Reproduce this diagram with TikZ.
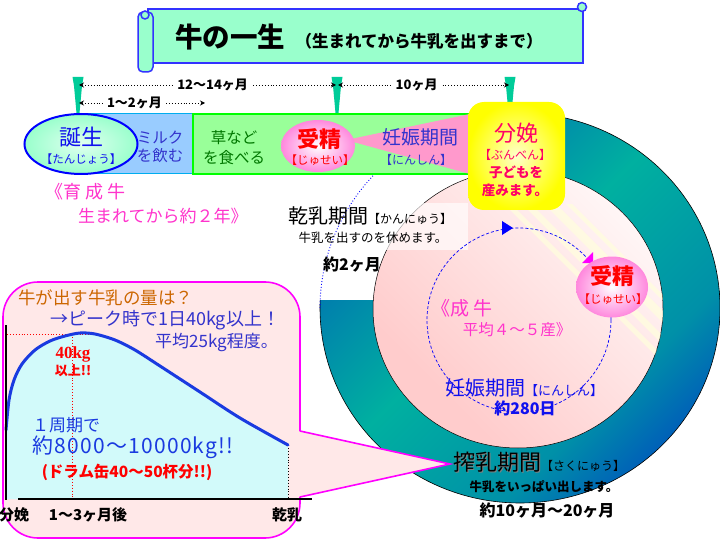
\documentclass[tikz,border=0pt]{standalone}
\usepackage{fontspec}
\setmainfont{Noto Sans CJK JP}
\newfontfamily\lserif{Liberation Serif}
\usetikzlibrary{arrows.meta,shapes.geometric}
\definecolor{mint}{HTML}{99FFCC}
\definecolor{bannerblue}{HTML}{3333FF}
\definecolor{pin}{HTML}{00CC99}
\definecolor{milkblue}{HTML}{99CCFF}
\definecolor{grass}{HTML}{99FF99}
\definecolor{grassline}{HTML}{00FF00}
\definecolor{wedge}{HTML}{FF99CC}
\definecolor{mag}{HTML}{FF33CC}
\definecolor{txtblue}{HTML}{3333CC}
\definecolor{pureblue}{HTML}{1010EE}
\definecolor{ringteal}{HTML}{00B0A0}
\definecolor{ringmid}{HTML}{0074B0}
\definecolor{ringmix}{HTML}{0090A8}
\definecolor{ringdeep}{HTML}{0032C8}
\definecolor{discA}{HTML}{FFCCCC}
\definecolor{discB}{HTML}{FFF6F6}
\definecolor{calfill}{HTML}{FFE8E8}
\definecolor{calline}{HTML}{FF00FF}
\definecolor{chartfill}{HTML}{D2FAFA}
\definecolor{curveblue}{HTML}{1A3AE0}
\definecolor{orangebrown}{HTML}{CC6600}
\definecolor{redtxt}{HTML}{FF0000}
\definecolor{bunben}{HTML}{FF0066}
\definecolor{grasstxt}{HTML}{007700}
\definecolor{pinkball}{HTML}{FF88DD}
\definecolor{ellfill}{HTML}{99FFCC}
\definecolor{stripe}{HTML}{FFFFDD}
\pgfdeclarehorizontalshading{ringshade}{100bp}{color(0bp)=(ringmid); color(28bp)=(ringmid); color(47bp)=(ringteal); color(66bp)=(ringmix); color(84bp)=(ringdeep); color(100bp)=(ringdeep)}
\pgfdeclarehorizontalshading{discshade}{100bp}{color(0bp)=(discA); color(30bp)=(discA); color(75bp)=(discB); color(100bp)=(discB)}
\newcommand\fsz[1]{\fontsize{#1}{#1}\selectfont}
\tikzset{
  txt/.style={inner sep=0pt, anchor=center},
  dimline/.style={dotted, line width=0.9, {Stealth[length=5pt,width=5pt]}-{Stealth[length=5pt,width=5pt]}},
  dimlabel/.style={fill=white, inner sep=3pt, font=\fsz{13}\bfseries},
  pinshape/.style={fill=pin},
}
\begin{document}
\begin{tikzpicture}[x=1pt,y=-1pt]
\useasboundingbox (0,0) rectangle (720,540);
\fill[white] (0,0) rectangle (720,540);
% ---------------- banner
\fill[mint, draw=bannerblue, line width=1.5] (148,9) -- (583,9) -- (583,63) -- (148,63) -- cycle;
\fill[mint, draw=bannerblue, line width=1.5, rounded corners=5] (138,12) rectangle (153,72);
\draw[bannerblue, fill=mint, line width=1.5] (145,15) circle (4);
\draw[bannerblue, fill=mint, line width=1.5] (582,7) circle (4.5);
\node[txt] (title) at (230,37) {\fsz{27.5}\bfseries 牛の一生};
\node[txt] (subtitle) at (419,41) {\fsz{16.5}\bfseries（生まれてから牛乳を出すまで）};
% ---------------- ring
\begin{scope}
\clip (519,80) -- (740,80) -- (740,560) -- (290,560) -- (290,300) -- (519,300) -- cycle;
\shade[shading=ringshade, shading angle=-45] (520,308) ellipse [x radius=200, y radius=195];
\draw[black, line width=0.6] (520,308) ellipse [x radius=200, y radius=195];
\end{scope}
% inner disc
\shade[shading=discshade, shading angle=45, draw=black, line width=0.5] (518,309) ellipse [x radius=145, y radius=139];
\begin{scope}
\clip (518,309) ellipse [x radius=145, y radius=139];
\clip (500,205) rectangle (700,460);
\foreach \a/\w in {300/7, 318/9, 340/12, 362/6}{
  \fill[stripe, opacity=0.7] (150+\a,150) -- (150+\a+\w,150) -- (400+\a+\w,400) -- (400+\a,400) -- cycle;
}
\end{scope}
% white overlay behind dry-period text
\fill[white, opacity=0.65] (288,203) rectangle (468,250);
% gap dotted arc
\draw[blue, dotted, line width=0.9] plot[domain=180:270, samples=50] ({520+200*cos(\x)}, {308+195*sin(\x)});
% dashed cycle circle
\draw[blue, dashed, dash pattern=on 3pt off 2pt, line width=0.7] (519,320) circle (92);
\fill[blue] (502,221) -- (513,228) -- (502,235) -- cycle;
\fill[calline] (582,263) -- (593,252) -- (593,263) -- cycle;
% ---------------- top bar
\fill[milkblue, draw=cyan, line width=1] (81,114) rectangle (193,174);
\fill[grass, draw=grassline, line width=1.5] (193,114) rectangle (468,174);
\fill[wedge] (346,140) -- (470,114) -- (470,174) -- cycle;
\node[ellipse, minimum width=113, minimum height=60, inner color=white!70!mint, outer color=ellfill, draw=blue, line width=2] (tanjo) at (81,144) {};
\node[txt, text=pureblue] (tanjoA) at (81,137) {\fsz{22}誕生};
\node[txt, text=pureblue] (tanjoB) at (81,159) {\fsz{11.5}【たんじょう】};
\node[txt, text=txtblue] (milkA) at (160,138) {\fsz{15.5}ミルク};
\node[txt, text=txtblue] (milkB) at (160,156) {\fsz{15.5}を飲む};
\node[txt, text=grasstxt] (grassA) at (234,138) {\fsz{15.5}草など};
\node[txt, text=grasstxt] (grassB) at (234,158) {\fsz{15.5}を食べる};
\node[ellipse, minimum width=74, minimum height=52, inner color=white, outer color=pinkball] (jusei1) at (318,146) {};
\node[txt, text=redtxt] (juseiA) at (319,139) {\fsz{22}\bfseries 受精};
\node[txt, text=redtxt] (juseiB) at (320,160) {\fsz{11.5}【じゅせい】};
\node[txt, text=txtblue] (ninA) at (420,137) {\fsz{19}妊娠期間};
\node[txt, text=txtblue] (ninB) at (416,160) {\fsz{12}【にんしん】};
% pins
\foreach \x in {78,337,510}{
  \fill[pinshape] (\x-5.5,77) -- (\x+5.5,77) -- (\x+4,86) -- (\x+1.5,113) -- (\x-1.5,113) -- (\x-4,86) -- cycle;
}
\coordinate (a1) at (79,85);
\coordinate (a2) at (336,85);
\coordinate (b1) at (338,85);
\coordinate (b2) at (509,85);
\coordinate (c1) at (79,103);
\coordinate (c2) at (205,103);
\draw[dimline] (a1) -- (a2) node[dimlabel, pos=0.52] (d1) {12〜14ヶ月};
\draw[dimline] (b1) -- (b2) node[dimlabel, pos=0.46] (d2) {10ヶ月};
\draw[dimline] (c1) -- (c2) node[dimlabel, pos=0.44] (d3) {1〜2ヶ月};
% yellow box
\node[rounded corners=16, minimum width=97, minimum height=108, inner color=white!80!yellow, outer color=yellow] (birthbox) at (516.5,156) {};
\node[txt, text=bunben] (bbA) at (516,133) {\fsz{22}分娩};
\node[txt, text=bunben] (bbB) at (515,155) {\fsz{12}【ぶんべん】};
\node[txt, text=bunben] (bbC) at (516,172) {\fsz{13.5}\bfseries 子どもを};
\node[txt, text=bunben] (bbD) at (515,190) {\fsz{13.5}\bfseries 産みます。};
% left texts
\node[txt, anchor=west, text=mag] (ikuA) at (45,192) {\fsz{18}《育 成 牛};
\node[txt, anchor=west, text=mag] (ikuB) at (78,216) {\fsz{17}生まれてから約２年》};
\node[txt, anchor=west] (kanA) at (288,216) {\fsz{20}乾乳期間\fsz{12}【かんにゅう】};
\node[txt] (kanB) at (373,238) {\fsz{12.5}牛乳を出すのを休めます。};
\node[txt] (kanC) at (352,265) {\fsz{16}\bfseries 約2ヶ月};
% ---------------- callout
\fill[calfill, draw=calline, line width=1.6, rounded corners=35] (3,282) rectangle (300,538);
\fill[calfill] (298,431) -- (450,464) -- (298,497) -- cycle;
\draw[calline, line width=1.6] (300,431) -- (450,464) -- (300,497);
% chart
\fill[chartfill] (6,499) -- plot[smooth] coordinates {(6,430) (9,400) (14,380) (22,364) (35,350) (50,341) (65,336) (80,333) (95,334) (115,340) (135,350) (160,366) (200,392) (240,418) (288,445)} -- (288,499) -- cycle;
\draw[redtxt, dotted, line width=0.9] (7,334) -- (93,334);
\draw[redtxt, dotted, line width=0.9] (72,334) -- (72,499);
\draw[black, dotted, line width=0.9] (288,445) -- (288,499);
\draw[curveblue, line width=3, line cap=round] plot[smooth] coordinates {(6,430) (9,400) (14,380) (22,364) (35,350) (50,341) (65,336) (80,333) (95,334) (115,340) (135,350) (160,366) (200,392) (240,418) (288,445)};
\draw[line width=2] (6,325) -- (6,500);
\draw[line width=2] (18,499) -- (312,499);
\node[txt, anchor=west, text=orangebrown] (qA) at (18,298) {\fsz{17.5}牛が出す牛乳の量は？};
\node[txt, anchor=west, text=txtblue] (qB) at (50,320) {\fsz{18}→ピーク時で1日40kg以上！};
\node[txt, anchor=east, text=txtblue] (qC) at (278,342) {\fsz{17}平均25kg程度。};
\node[txt, text=redtxt] (pk1) at (73,354) {\lserif\fsz{17}\bfseries 40kg};
\node[txt, text=redtxt] (pk2) at (73,371) {\fsz{13}\bfseries 以上!!};
\node[txt, anchor=west, text=curveblue] (tot1) at (32,425) {\fsz{17}１周期で};
\node[txt, anchor=west, text=curveblue] (tot2) at (32,447) {\fsz{21}\addfontfeature{LetterSpace=6}約8000〜10000kg!!};
\node[txt, text=redtxt] (tot3) at (127,472) {\fsz{15.5}\bfseries (ドラム缶40〜50杯分!!)};
\node[txt] (ax1) at (14,515) {\fsz{15}\bfseries 分娩};
\node[txt] (ax2) at (88,515) {\fsz{15}\bfseries 1〜3ヶ月後};
\node[txt] (ax3) at (287,515) {\fsz{15}\bfseries 乾乳};
% ---------------- ring texts
\node[ellipse, minimum width=72, minimum height=61, inner color=white, outer color=pinkball] (jusei2) at (612,287) {};
\node[txt, text=redtxt] (jusei2A) at (612,276) {\fsz{22}\bfseries 受精};
\node[txt, text=redtxt] (jusei2B) at (613,299) {\fsz{11.5}【じゅせい】};
\node[txt, text=mag] (seiA) at (462,308) {\fsz{19}《成 牛};
\node[txt, text=mag] (seiB) at (517,330) {\fsz{15.5}平均４～５産》};
\node[txt, text=pureblue] (nin2A) at (524,388) {\fsz{20}妊娠期間\fsz{13}【にんしん】};
\node[txt, text=pureblue] (nin2B) at (525,408) {\fsz{16}\bfseries 約280日};
\node[txt, anchor=west, text=gray] (sakuS) at (454.5,463.5) {\fsz{22}搾乳期間\fsz{12}\phantom{【さくにゅう】}};
\node[txt, anchor=west] (sakuA) at (453,462) {\fsz{22}搾乳期間\fsz{12}【さくにゅう】};
\node[txt] (sakuB) at (544,487) {\fsz{12.5}\bfseries 牛乳をいっぱい出します。};
\node[txt] (sakuC) at (547,511) {\fsz{16}\bfseries 約10ヶ月〜20ヶ月};
\end{tikzpicture}
\end{document}
